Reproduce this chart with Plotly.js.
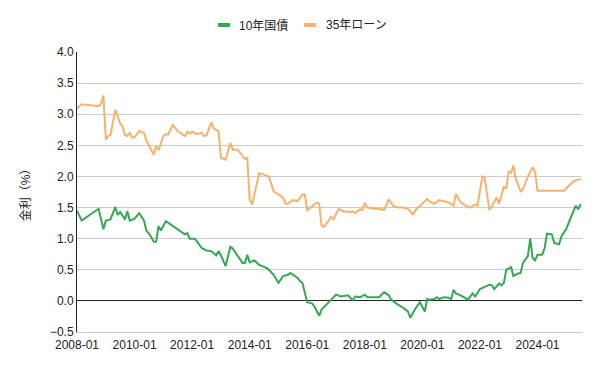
<!DOCTYPE html>
<html>
<head>
<meta charset="utf-8">
<script src="https://cdn.plot.ly/plotly-3.0.1.min.js"></script>
<style>html,body{margin:0;padding:0;background:#fff;}#chart{width:600px;height:371px;}</style>
</head>
<body>
<div id="chart"></div>
<script>
var seriesNames = ["10年国債", "35年ローン"];
var seriesColors = ["#34a853", "#f6b26b"];
var yTickVals = [-0.5, 0, 0.5, 1, 1.5, 2, 2.5, 3, 3.5, 4];

var jgbDates = ["2008-01","2008-03","2008-10","2008-12","2009-01","2009-03","2009-05","2009-06","2009-07","2009-09","2009-10","2009-11",
"2010-01","2010-03","2010-05","2010-06","2010-07","2010-09","2010-10","2010-11","2010-12","2011-02","2011-04","2011-10","2011-11","2011-12",
"2012-02","2012-03","2012-05","2012-07","2012-09","2012-10","2012-11","2012-12","2013-01","2013-03","2013-05","2013-06","2013-08","2013-10","2013-11","2013-12",
"2014-01","2014-03","2014-05","2014-08","2014-09","2014-11","2015-01","2015-03","2015-05","2015-06","2015-09","2015-10","2015-11",
"2016-01","2016-03","2016-04","2016-06","2016-07","2016-08","2016-09","2016-11","2016-12","2017-01","2017-03","2017-05","2017-06","2017-08","2017-09","2017-11",
"2018-01","2018-02","2018-07","2018-09","2018-11","2018-12","2019-02","2019-05","2019-07","2019-08","2019-10","2019-12",
"2020-02","2020-03","2020-04","2020-06","2020-07","2020-08","2020-10","2020-12","2021-01","2021-02","2021-03","2021-05","2021-08","2021-10","2021-11",
"2022-01","2022-03","2022-05","2022-06","2022-07","2022-09","2022-10","2022-11","2022-12","2023-02","2023-03","2023-05","2023-06","2023-07","2023-09","2023-10","2023-11","2023-12",
"2024-01","2024-03","2024-04","2024-05","2024-07","2024-08","2024-10","2024-11","2025-01","2025-05","2025-06","2025-07"];
var jgbRates = [1.45,1.29,1.48,1.15,1.29,1.31,1.51,1.38,1.43,1.31,1.44,1.29,
1.32,1.41,1.29,1.12,1.09,0.95,0.95,1.20,1.13,1.28,1.23,1.07,1.09,1.00,
1.00,0.96,0.85,0.81,0.80,0.77,0.73,0.80,0.73,0.56,0.87,0.84,0.73,0.61,0.61,0.74,
0.62,0.65,0.58,0.53,0.50,0.42,0.29,0.40,0.42,0.45,0.37,0.32,0.29,
-0.02,-0.04,-0.09,-0.24,-0.14,-0.10,-0.06,0.02,0.07,0.10,0.07,0.09,0.09,0.01,0.07,0.06,
0.10,0.06,0.06,0.14,0.09,0.02,-0.04,-0.11,-0.17,-0.27,-0.13,-0.02,
-0.17,0.03,0.02,0.03,0.06,0.03,0.06,0.05,0.03,0.18,0.12,0.09,0.02,0.12,0.07,
0.19,0.23,0.26,0.25,0.19,0.28,0.25,0.29,0.50,0.54,0.40,0.44,0.45,0.61,0.72,1.00,0.69,0.65,
0.74,0.74,0.85,1.08,1.07,0.93,0.91,1.04,1.16,1.53,1.47,1.56];

var loanDates = ["2008-01","2008-03","2008-10","2008-11","2008-12","2009-01","2009-02","2009-03","2009-05","2009-06","2009-07","2009-08","2009-09","2009-10","2009-11","2009-12",
"2010-01","2010-03","2010-05","2010-06","2010-09","2010-10","2010-11","2011-01","2011-02","2011-03","2011-05","2011-07","2011-10","2011-11","2011-12",
"2012-01","2012-03","2012-05","2012-06","2012-07","2012-09","2012-10","2012-12","2013-01","2013-03","2013-05","2013-06","2013-08","2013-09","2013-11","2013-12",
"2014-01","2014-02","2014-05","2014-07","2014-09","2014-11","2015-01","2015-03","2015-04","2015-05","2015-07","2015-09","2015-11","2015-12",
"2016-01","2016-03","2016-05","2016-06","2016-07","2016-08","2016-10","2016-11","2016-12","2017-02","2017-04","2017-07","2017-08","2017-09","2017-11","2017-12",
"2018-01","2018-02","2018-05","2018-07","2018-09","2018-11","2019-01","2019-03","2019-05","2019-07","2019-08","2019-09","2019-11","2019-12",
"2020-03","2020-04","2020-06","2020-08","2020-10","2020-12","2021-02","2021-03","2021-05","2021-07","2021-09","2021-11","2021-12",
"2022-02","2022-03","2022-05","2022-06","2022-08","2022-09","2022-11","2022-12","2023-01","2023-02","2023-03","2023-04","2023-06","2023-07","2023-09","2023-11","2023-12",
"2024-01","2024-12","2025-04","2025-07"];
var loanRates = [3.09,3.16,3.13,3.17,3.30,2.59,2.65,2.67,3.07,2.94,2.85,2.81,2.67,2.65,2.70,2.62,
2.63,2.73,2.70,2.57,2.35,2.49,2.42,2.65,2.68,2.67,2.83,2.73,2.65,2.72,2.69,
2.72,2.68,2.70,2.65,2.66,2.87,2.77,2.73,2.30,2.27,2.54,2.43,2.43,2.38,2.28,2.30,
1.63,1.55,2.05,2.03,2.00,1.76,1.71,1.66,1.56,1.56,1.62,1.60,1.71,1.71,
1.46,1.52,1.58,1.56,1.21,1.19,1.31,1.35,1.31,1.48,1.44,1.43,1.44,1.41,1.47,1.46,
1.58,1.50,1.48,1.48,1.46,1.63,1.52,1.50,1.50,1.48,1.44,1.39,1.50,1.52,
1.64,1.60,1.56,1.62,1.60,1.58,1.53,1.72,1.58,1.53,1.50,1.55,1.53,
2.00,1.98,1.46,1.52,1.66,1.56,1.84,1.80,2.08,2.06,2.18,1.96,1.76,1.79,2.00,2.15,2.08,
1.77,1.77,1.92,1.96];

var FONT = 'Arial, "Liberation Sans", "Noto Sans CJK JP", sans-serif';

var traces = [
  {x: jgbDates, y: jgbRates, name: seriesNames[0], type: 'scatter', mode: 'lines',
   line: {color: seriesColors[0], width: 2}},
  {x: loanDates, y: loanRates, name: seriesNames[1], type: 'scatter', mode: 'lines',
   line: {color: seriesColors[1], width: 2}}
];

// Legend drawn as swatch shapes + text annotations (paper coords)
var legendSwatchX = [[0.2792, 0.3030], [0.4495, 0.4733]];
var legendTextX = [0.3168, 0.4891];
var legendY = 1.0964;
var shapes = [], annotations = [];
for (var i = 0; i < seriesNames.length; i++) {
  shapes.push({type: 'line', xref: 'paper', yref: 'paper',
    x0: legendSwatchX[i][0], x1: legendSwatchX[i][1], y0: legendY, y1: legendY,
    line: {color: seriesColors[i], width: 4}});
  annotations.push({xref: 'paper', yref: 'paper', x: legendTextX[i], y: legendY,
    xanchor: 'left', yanchor: 'middle', showarrow: false, text: seriesNames[i],
    font: {family: FONT, size: 12, color: '#222'}});
}

var layout = {
  width: 600, height: 371,
  margin: {l: 77, r: 18, t: 52, b: 39},
  paper_bgcolor: '#fff', plot_bgcolor: '#fff',
  font: {family: FONT, size: 12, color: '#222'},
  showlegend: false,
  shapes: shapes,
  annotations: annotations,
  xaxis: {
    type: 'date', range: ['2008-01-01', '2025-07-19'],
    tick0: '2008-01-01', dtick: 'M24', tickformat: '%Y-%m',
    showgrid: false, zeroline: false, showline: true, linecolor: '#cccccc', linewidth: 1,
    ticks: '', ticklabelstandoff: 2, tickfont: {family: FONT, size: 12, color: '#222'}
  },
  yaxis: {
    range: [-0.5, 4.0], tickvals: yTickVals, tickformat: '.1f',
    showgrid: true, gridcolor: '#cccccc', gridwidth: 1,
    zeroline: true, zerolinecolor: '#222222', zerolinewidth: 1,
    showline: true, linecolor: '#222222', linewidth: 1,
    ticks: '', tickfont: {family: FONT, size: 12, color: '#222'},
    title: {text: '金利（%）', standoff: 16, font: {family: FONT, size: 12, color: '#222'}}
  }
};

Plotly.newPlot('chart', traces, layout, {displayModeBar: false, staticPlot: true});
</script>
</body>
</html>
